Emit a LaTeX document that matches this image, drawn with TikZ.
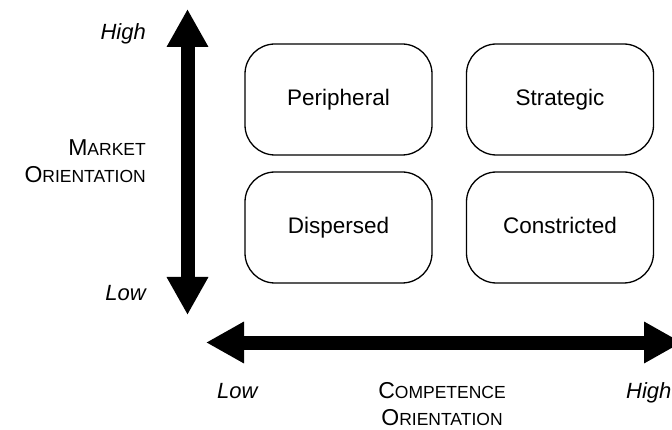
\documentclass[tikz,border=0pt]{standalone}
\usepackage{fontspec}
\setmainfont{Liberation Sans}
\usetikzlibrary{arrows.meta}
\newcommand{\lowcaps}[1]{{\fontsize{17.5}{20}\selectfont #1}}
\begin{document}
\begin{tikzpicture}[x=1pt,y=-1pt,
  quadbox/.style={draw=black,line width=1.3pt,rounded corners=30pt,
    minimum width=187pt,minimum height=111pt,inner sep=0pt,
    text height=16pt,text depth=4.5pt,
    font=\fontsize{22.5}{26}\selectfont},
  axisarrow/.style={line width=14pt,
    {Triangle[length=38pt,width=39pt]}-{Triangle[length=38pt,width=39pt]}},
  endlabel/.style={font=\fontsize{22}{26}\selectfont\itshape,inner sep=0pt},
  axislabel/.style={font=\fontsize{23}{27}\selectfont,inner sep=0pt}]
\useasboundingbox (0,0) rectangle (672,430);

% quadrant boxes
\node[quadbox] (peripheral)  at (338.5,99.5)  {Peripheral};
\node[quadbox] (strategic)   at (560,99.5)    {Strategic};
\node[quadbox] (dispersed)   at (338.5,227.5) {Dispersed};
\node[quadbox] (constricted) at (560,227.5)   {Constricted};

% axes
\coordinate (vtop) at (187.5,9);
\coordinate (vbot) at (187.5,315);
\coordinate (hleft) at (206,342.5);
\coordinate (hright) at (682,342.5);
\draw[axisarrow] (vbot) -- (vtop);
\draw[axisarrow] (hleft) -- (hright);

% vertical axis labels
\node[endlabel,anchor=base east] (vhigh) at (146,40) {High};
\node[endlabel,anchor=base east] (vlow) at (146,301) {Low};
\node[axislabel,anchor=base east] (vname1) at (146,156) {M\lowcaps{ARKET}};
\node[axislabel,anchor=base east] (vname2) at (146,183) {O\lowcaps{RIENTATION}};

% horizontal axis labels
\node[endlabel,anchor=base west] (hlow) at (217,398) {Low};
\node[endlabel,anchor=base west] (hhigh) at (626,398) {High};
\node[axislabel,anchor=base] (hname1) at (442,398) {C\lowcaps{OMPETENCE}};
\node[axislabel,anchor=base] (hname2) at (442,425) {O\lowcaps{RIENTATION}};
\end{tikzpicture}
\end{document}
